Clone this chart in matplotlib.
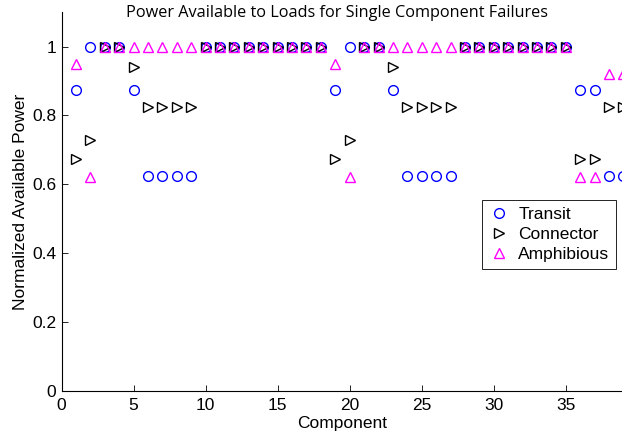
import matplotlib
matplotlib.use("Agg")
import matplotlib.pyplot as plt

plt.rcParams['font.family'] = ['Liberation Sans', 'DejaVu Sans']

components = list(range(1, 40))
transit = [0.875, 1, 1, 1, 0.875, 0.625, 0.625, 0.625, 0.625,
           1, 1, 1, 1, 1, 1, 1, 1, 1,
           0.875, 1, 1, 1, 0.875, 0.625, 0.625, 0.625, 0.625,
           1, 1, 1, 1, 1, 1, 1, 1,
           0.875, 0.875, 0.625, 0.625]
connector = [0.675, 0.73, 1, 1, 0.94, 0.825, 0.825, 0.825, 0.825,
             1, 1, 1, 1, 1, 1, 1, 1, 1,
             0.675, 0.73, 1, 1, 0.94, 0.825, 0.825, 0.825, 0.825,
             1, 1, 1, 1, 1, 1, 1, 1,
             0.675, 0.675, 0.825, 0.825]
amphibious = [0.95, 0.62, 1, 1, 1, 1, 1, 1, 1,
              1, 1, 1, 1, 1, 1, 1, 1, 1,
              0.95, 0.62, 1, 1, 1, 1, 1, 1, 1,
              1, 1, 1, 1, 1, 1, 1, 1,
              0.62, 0.62, 0.92, 0.92]

fig = plt.figure(figsize=(6.22, 4.33), dpi=100)
ax = fig.add_axes([0.099, 0.097, 0.901, 0.875])

ms = 7
ax.plot(components, transit, 'o', color='blue', mfc='none', ms=ms, mew=1,
        label='Transit', clip_on=False)
ax.plot(components, connector, '>', color='black', mfc='none', ms=ms, mew=1,
        label='Connector', clip_on=False)
ax.plot(components, amphibious, '^', color='magenta', mfc='none', ms=ms, mew=1,
        label='Amphibious', clip_on=False)

ax.set_xlim(0, 38.9)
ax.set_ylim(0, 1.1)
ax.set_xticks([0, 5, 10, 15, 20, 25, 30, 35])
ax.set_yticks([0, 0.2, 0.4, 0.6, 0.8, 1])
ax.set_yticklabels(['0', '0.2', '0.4', '0.6', '0.8', '1'])
ax.tick_params(direction='in', length=4, width=0.6, labelsize=12.5)
ax.tick_params(axis='x', pad=5)
ax.tick_params(axis='y', pad=4)
for s in ['top', 'right']:
    ax.spines[s].set_visible(False)
for s in ['left', 'bottom']:
    ax.spines[s].set_linewidth(0.8)

# title sits over the top of the axes in the original
fig.text(337 / 622, 1 - 13 / 433,
         'Power Available to Loads for Single Component Failures',
         fontsize=11.7, family=['Open Sans', 'DejaVu Sans'],
         ha='center', va='center')
ax.set_xlabel('Component', fontsize=12.5, labelpad=2)
ax.set_ylabel('Normalized Available Power', fontsize=12.5, labelpad=3)

leg = ax.legend(loc='upper right', bbox_to_anchor=(0.99, 0.505),
                fontsize=12.5, fancybox=False, framealpha=1,
                edgecolor='black', handlelength=1.2, handletextpad=0.5,
                borderpad=0.4, labelspacing=0.28, borderaxespad=0)
leg.get_frame().set_linewidth(0.6)

fig.savefig('out.png', dpi=100)
